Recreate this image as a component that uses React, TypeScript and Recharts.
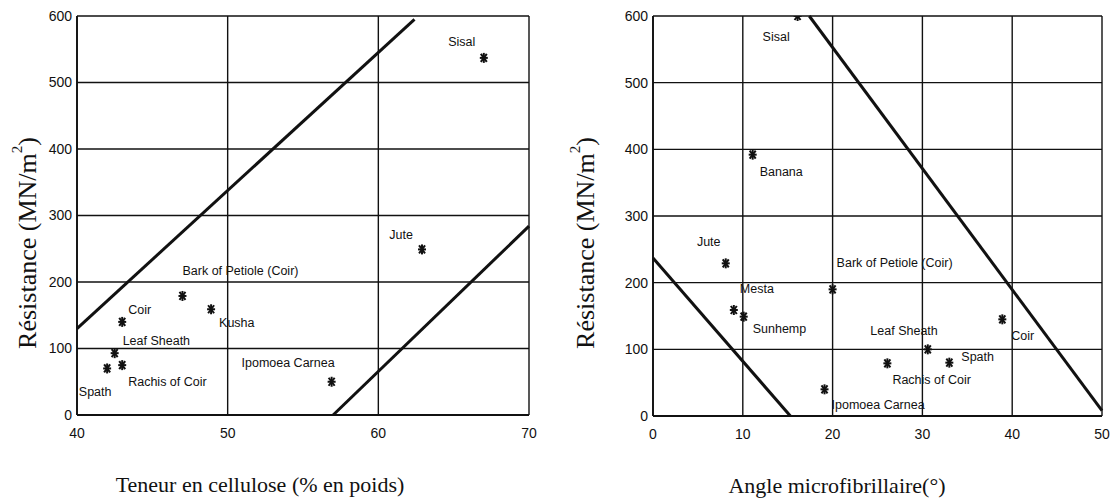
import { CartesianGrid, Label, ReferenceLine, Scatter, ScatterChart, XAxis, YAxis } from "recharts";

// left panel: strength vs cellulose content
const cellNames = ["Sisal", "Jute", "Bark of Petiole (Coir)", "Kusha", "Coir", "Leaf Sheath", "Rachis of Coir", "Spath", "Ipomoea Carnea"];
const cellX = [67, 62.9, 47, 48.9, 43, 42.5, 43, 42, 56.9];
const cellY = [537, 249, 179, 159, 140, 93, 75, 70, 50];
const cellTicks = [40, 50, 60, 70];
const cellUpperLine = [{ x: 40, y: 130 }, { x: 62.4, y: 595 }];
const cellLowerLine = [{ x: 57, y: 0 }, { x: 70, y: 284 }];

// right panel: strength vs microfibril angle
const angleNames = ["Sisal", "Banana", "Jute", "Mesta", "Sunhemp", "Bark of Petiole (Coir)", "Ipomoea Carnea", "Leaf Sheath", "Spath", "Rachis of Coir", "Coir"];
const angleX = [16.1, 11.1, 8.1, 9, 10.1, 20, 19.1, 30.6, 33, 26.1, 38.9];
const angleY = [600, 392, 229, 159, 149, 190, 40, 100, 80, 79, 145];
const angleTicks = [0, 10, 20, 30, 40, 50];
const angleUpperLine = [{ x: 17.4, y: 600 }, { x: 50, y: 8 }];
const angleLowerLine = [{ x: 0, y: 237 }, { x: 15.3, y: 0 }];

const strengthTicks = [0, 100, 200, 300, 400, 500, 600];

// label placement next to each marker (px)
const cellLabelPos: [number, number, "start" | "middle" | "end"][] = [
  [-22, -16, "middle"], [-21, -14, "middle"], [0, -25, "start"], [8, 14, "start"], [6, -12, "start"],
  [8, -12, "start"], [6, 17, "start"], [-12, 24, "middle"], [3, -19, "end"]
];
const angleLabelPos: [number, number, "start" | "middle" | "end"][] = [
  [-35, 21, "start"], [7, 17, "start"], [-17, -21, "middle"], [6, -21, "start"], [9, 12, "start"],
  [4, -26, "start"], [7, 16, "start"], [10, -18, "end"], [12, -6, "start"], [5, 17, "start"], [9, 17, "start"]
];

const SANS = "'Liberation Sans', Arial, sans-serif";
const SERIF = "'Liberation Serif', 'Times New Roman', serif";
const INK = "#111";

function build(names: string[], xs: number[], ys: number[], pos: [number, number, string][]) {
  return names.map((name, i) => ({ name, x: xs[i], y: ys[i], dx: pos[i][0], dy: pos[i][1], anchor: pos[i][2] }));
}

function StarPoint(props: any) {
  const { cx, cy, payload } = props;
  if (cx == null || cy == null) return null;
  const r = 4;
  const d = 3;
  return (
    <g>
      <g stroke={INK} strokeWidth={2}>
        <line x1={cx - r} y1={cy} x2={cx + r} y2={cy} />
        <line x1={cx} y1={cy - r - 1} x2={cx} y2={cy + r + 1} />
        <line x1={cx - d} y1={cy - d - 1} x2={cx + d} y2={cy + d + 1} />
        <line x1={cx - d} y1={cy + d + 1} x2={cx + d} y2={cy - d - 1} />
      </g>
      <text
        x={cx + payload.dx}
        y={cy + payload.dy}
        textAnchor={payload.anchor}
        dominantBaseline="central"
        fontFamily={SANS}
        fontSize={12.5}
        fill={INK}
      >
        {payload.name}
      </text>
    </g>
  );
}

function YTitle({ viewBox, shift }: any) {
  if (!viewBox) return null;
  const x = viewBox.x + shift;
  const y = 243;
  return (
    <text x={x} y={y} transform={`rotate(-90 ${x} ${y})`} textAnchor="middle" dominantBaseline="central" fontFamily={SERIF} fontSize={26} fill={INK}>
      Résistance (MN/m<tspan dy={-10} fontSize={15}>2</tspan><tspan dy={10}>)</tspan>
    </text>
  );
}

function XTitle({ viewBox, text, cx }: any) {
  if (!viewBox) return null;
  return (
    <text x={cx} y={viewBox.y + 77} textAnchor="middle" fontFamily={SERIF} fontSize={22} fill={INK}>
      {text}
    </text>
  );
}

const tickStyle = { fill: INK, fontSize: 14, fontFamily: SANS };

function Panel({ data, width, xDomain, xTicks, upper, lower, marginLeft, marginRight, bottomAxis, title, titleX, yShift }: any) {
  return (
    <ScatterChart width={width} height={500} margin={{ top: 16, right: marginRight, left: marginLeft, bottom: 0 }}>
      <CartesianGrid stroke={INK} strokeWidth={1.4} />
      <XAxis
        type="number"
        dataKey="x"
        domain={xDomain}
        ticks={xTicks}
        height={bottomAxis}
        tickLine={false}
        tickSize={3}
        tickMargin={10}
        axisLine={{ stroke: INK, strokeWidth: 1.8 }}
        tick={tickStyle}
        allowDataOverflow
      >
        <Label content={(p: any) => <XTitle viewBox={p.viewBox} text={title} cx={titleX} />} />
      </XAxis>
      <YAxis
        type="number"
        dataKey="y"
        domain={[0, 600]}
        ticks={strengthTicks}
        width={40}
        tickLine={false}
        tickSize={3}
        tickMargin={2}
        axisLine={{ stroke: INK, strokeWidth: 1.8 }}
        tick={tickStyle}
        allowDataOverflow
      >
        <Label content={(p: any) => <YTitle viewBox={p.viewBox} shift={yShift} />} />
      </YAxis>
      <ReferenceLine segment={upper} stroke={INK} strokeWidth={3} ifOverflow="visible" />
      <ReferenceLine segment={lower} stroke={INK} strokeWidth={3} ifOverflow="visible" />
      <Scatter data={data} shape={StarPoint} isAnimationActive={false} />
    </ScatterChart>
  );
}

export default function App() {
  const cellData = build(cellNames, cellX, cellY, cellLabelPos);
  const angleData = build(angleNames, angleX, angleY, angleLabelPos);
  return (
    <div style={{ position: "absolute", left: 0, top: 0, width: 1114, height: 500, background: "#fff", overflow: "hidden" }}>
      <div style={{ position: "absolute", left: 0, top: 0 }}>
        <Panel
          data={cellData}
          width={545}
          xDomain={[40, 70]}
          xTicks={cellTicks}
          upper={cellUpperLine}
          lower={cellLowerLine}
          marginLeft={37}
          marginRight={16}
          bottomAxis={85}
          title="Teneur en cellulose (% en poids)"
          titleX={260}
          yShift={-10}
        />
      </div>
      <div style={{ position: "absolute", left: 545, top: 0 }}>
        <Panel
          data={angleData}
          width={570}
          xDomain={[0, 50]}
          xTicks={angleTicks}
          upper={angleUpperLine}
          lower={angleLowerLine}
          marginLeft={68}
          marginRight={13}
          bottomAxis={84}
          title="Angle microfibrillaire(°)"
          titleX={292}
          yShift={-28}
        />
      </div>
    </div>
  );
}
